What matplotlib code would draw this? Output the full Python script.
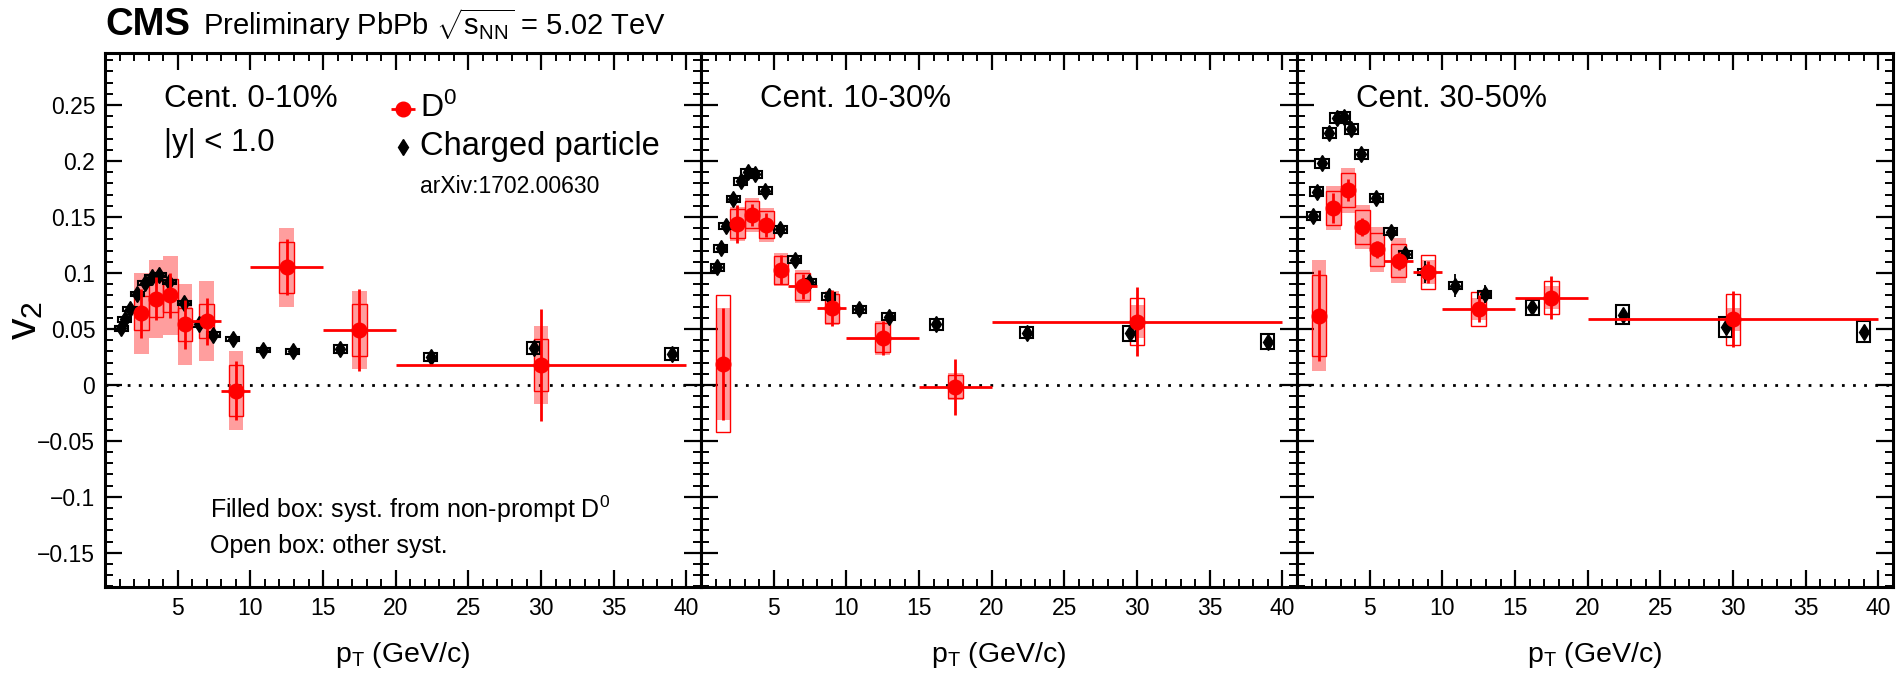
import numpy as np
import matplotlib
matplotlib.use("Agg")
import matplotlib.pyplot as plt
from matplotlib.patches import Rectangle
from matplotlib.ticker import FixedLocator, FixedFormatter, MultipleLocator

plt.rcParams['font.family'] = ['Liberation Sans', 'DejaVu Sans']
plt.rcParams['mathtext.fontset'] = 'custom'
plt.rcParams['mathtext.rm'] = 'Liberation Sans'
plt.rcParams['mathtext.it'] = 'Liberation Sans:italic'
plt.rcParams['mathtext.bf'] = 'Liberation Sans:bold'

# D0 pT bins (GeV/c)
d0_lo = [1, 2, 3, 4, 5, 6, 8, 10, 15, 20]
d0_hi = [2, 3, 4, 5, 6, 8, 10, 15, 20, 40]

# D0 v2, 0-10% (no measurement in the first bin)
d0_v2_0_10 = [np.nan, 0.064, 0.077, 0.080, 0.054, 0.057, -0.005, 0.105, 0.049, 0.018]
d0_stat_0_10 = [np.nan, 0.022, 0.019, 0.020, 0.022, 0.021, 0.026, 0.025, 0.037, 0.050]
d0_npsys_0_10 = [np.nan, 0.036, 0.035, 0.035, 0.036, 0.036, 0.035, 0.035, 0.035, 0.035]
d0_sys_0_10 = [np.nan, 0.015, 0.016, 0.015, 0.015, 0.015, 0.023, 0.023, 0.023, 0.023]

# D0 v2, 10-30%
d0_v2_10_30 = [0.019, 0.144, 0.152, 0.143, 0.103, 0.088, 0.0685, 0.042, -0.0015, 0.0565]
d0_stat_10_30 = [0.050, 0.017, 0.010, 0.011, 0.013, 0.011, 0.016, 0.015, 0.025, 0.031]
d0_npsys_10_30 = [0.050, 0.015, 0.015, 0.015, 0.015, 0.015, 0.015, 0.015, 0.012, 0.015]
d0_sys_10_30 = [0.061, 0.013, 0.012, 0.012, 0.0125, 0.012, 0.013, 0.013, 0.010, 0.021]

# D0 v2, 30-50%
d0_v2_30_50 = [0.062, 0.158, 0.174, 0.141, 0.121, 0.111, 0.101, 0.068, 0.078, 0.0586]
d0_stat_30_50 = [0.041, 0.013, 0.010, 0.008, 0.008, 0.008, 0.010, 0.012, 0.019, 0.025]
d0_npsys_30_50 = [0.050, 0.020, 0.020, 0.020, 0.020, 0.020, 0.011, 0.010, 0.010, 0.010]
d0_sys_30_50 = [0.0365, 0.015, 0.015, 0.015, 0.015, 0.015, 0.0155, 0.015, 0.015, 0.023]

# charged particle v2 (arXiv:1702.00630)
ch_pt = [1.12, 1.37, 1.72, 2.22, 2.72, 3.22, 3.73, 4.42, 5.44, 6.45,
         7.46, 8.8, 10.9, 12.9, 16.2, 22.4, 29.5, 39.0]
ch_v2_0_10 = [0.0505, 0.0585, 0.068, 0.081, 0.091, 0.096, 0.098, 0.092, 0.073, 0.054,
              0.045, 0.041, 0.031, 0.030, 0.032, 0.025, 0.033, 0.028]
ch_stat_0_10 = [0.001, 0.001, 0.001, 0.001, 0.001, 0.001, 0.001, 0.001, 0.002, 0.002,
                0.002, 0.002, 0.003, 0.003, 0.002, 0.002, 0.003, 0.004]
ch_sys_0_10 = [0.002, 0.002, 0.002, 0.002, 0.002, 0.002, 0.002, 0.002, 0.002, 0.002,
               0.002, 0.002, 0.002, 0.002, 0.0034, 0.0037, 0.0055, 0.0054]
ch_v2_10_30 = [0.105, 0.122, 0.142, 0.166, 0.182, 0.190, 0.188, 0.1735, 0.139, 0.112,
               0.092, 0.079, 0.0676, 0.061, 0.054, 0.0467, 0.046, 0.0387]
ch_stat_10_30 = [0.001, 0.001, 0.001, 0.001, 0.001, 0.001, 0.001, 0.001, 0.002, 0.002,
                 0.003, 0.006, 0.004, 0.004, 0.003, 0.003, 0.004, 0.004]
ch_sys_10_30 = [0.003, 0.003, 0.003, 0.003, 0.003, 0.003, 0.003, 0.003, 0.003, 0.003,
                0.003, 0.003, 0.003, 0.003, 0.005, 0.005, 0.007, 0.0068]
ch_v2_30_50 = [0.151, 0.1726, 0.198, 0.2247, 0.2387, 0.239, 0.2286, 0.206, 0.1667, 0.137,
               0.1167, 0.101, 0.0887, 0.081, 0.0693, 0.0625, 0.052, 0.0476]
ch_stat_30_50 = [0.002, 0.002, 0.002, 0.002, 0.002, 0.002, 0.002, 0.002, 0.003, 0.003,
                 0.004, 0.010, 0.010, 0.008, 0.004, 0.004, 0.005, 0.005]
ch_sys_30_50 = [0.0036, 0.004, 0.004, 0.0045, 0.0045, 0.0045, 0.0045, 0.004, 0.0035, 0.0035,
                0.003, 0.003, 0.003, 0.003, 0.0065, 0.0085, 0.009, 0.0094]

centralities = ['Cent. 0-10%', 'Cent. 10-30%', 'Cent. 30-50%']

ytick_vals = [-0.15, -0.1, -0.05, 0, 0.05, 0.1, 0.15, 0.2, 0.25]
ytick_text = ['\u22120.15', '\u22120.1', '\u22120.05', '0', '0.05', '0.1', '0.15', '0.2', '0.25']
xtick_vals = [5, 10, 15, 20, 25, 30, 35, 40]

RED = '#ff0000'
RED_FILL = (1.0, 0.0, 0.0, 0.38)


def draw_panel(ax, d0_v2, d0_stat, d0_npsys, d0_sys, ch_v2, ch_stat, ch_sys):
    ax.axhline(0, color='black', lw=2, ls=(0, (1, 3)), zorder=1)

    # D0 systematic boxes
    for lo, hi, v, s_np, s in zip(d0_lo, d0_hi, d0_v2, d0_npsys, d0_sys):
        if np.isnan(v):
            continue
        c = 0.5 * (lo + hi)
        ax.add_patch(Rectangle((c - 0.5, v - s_np), 1.0, 2 * s_np,
                               facecolor=RED_FILL, edgecolor='none', zorder=2))
        ax.add_patch(Rectangle((c - 0.5, v - s), 1.0, 2 * s,
                               facecolor='none', edgecolor=RED, lw=1.0, zorder=3))

    # charged particles
    for pt, v, s in zip(ch_pt, ch_v2, ch_sys):
        ax.add_patch(Rectangle((pt - 0.45, v - s), 0.9, 2 * s,
                               facecolor='none', edgecolor='black', lw=1.5, zorder=4))
    ax.errorbar(ch_pt, ch_v2, yerr=ch_stat, fmt='d', color='black', ms=8,
                elinewidth=1.3, capsize=0, zorder=5)

    # D0 points with stat errors
    lo = np.array(d0_lo, dtype=float)
    hi = np.array(d0_hi, dtype=float)
    c = 0.5 * (lo + hi)
    ax.errorbar(c, d0_v2, xerr=0.5 * (hi - lo), yerr=d0_stat, fmt='o', color=RED,
                ms=10.5, elinewidth=2.0, capsize=0, zorder=6)

    ax.set_xlim(0, 41)
    ax.set_ylim(-0.1805, 0.2965)
    ax.xaxis.set_major_locator(FixedLocator(xtick_vals))
    ax.xaxis.set_minor_locator(MultipleLocator(1))
    ax.yaxis.set_major_locator(FixedLocator(ytick_vals))
    ax.yaxis.set_major_formatter(FixedFormatter(ytick_text))
    ax.yaxis.set_minor_locator(MultipleLocator(0.01))
    ax.tick_params(which='both', direction='in', top=True, right=True, labelsize=16.5)
    ax.tick_params(which='major', length=12, width=1.6, pad=7)
    ax.tick_params(which='minor', length=6, width=1.4)
    for sp in ax.spines.values():
        sp.set_linewidth(2.2)
    ax.text(0.5, -0.1405, r'p$_{\mathrm{T}}$ (GeV/c)', transform=ax.transAxes,
            ha='center', va='baseline', fontsize=20.5)


fig = plt.figure(figsize=(18.97, 6.8), dpi=100)
W, H = 1897.0, 680.0
ax_w = 596 / W
ax_h = 534 / H
ax_b = (H - 587) / H
lefts = [105 / W, 701 / W, 1297 / W]
axes = [fig.add_axes([l, ax_b, ax_w, ax_h]) for l in lefts]

draw_panel(axes[0], d0_v2_0_10, d0_stat_0_10, d0_npsys_0_10, d0_sys_0_10,
           ch_v2_0_10, ch_stat_0_10, ch_sys_0_10)
draw_panel(axes[1], d0_v2_10_30, d0_stat_10_30, d0_npsys_10_30, d0_sys_10_30,
           ch_v2_10_30, ch_stat_10_30, ch_sys_10_30)
draw_panel(axes[2], d0_v2_30_50, d0_stat_30_50, d0_npsys_30_50, d0_sys_30_50,
           ch_v2_30_50, ch_stat_30_50, ch_sys_30_50)
for ax in axes[1:]:
    ax.tick_params(labelleft=False)

for ax, name in zip(axes, centralities):
    ax.text(4.05, 0.2485, name, fontsize=22.5, va='baseline', ha='left')

ax0 = axes[0]
ax0.text(4.05, 0.209, '|y| < 1.0', fontsize=22.5, va='baseline', ha='left')

# legend
ax0.errorbar([20.5], [0.2465], xerr=[0.8], fmt='o', color=RED, ms=10.5,
             elinewidth=2.0, capsize=0, zorder=6)
ax0.text(21.7, 0.2395, r'D$^{0}$', fontsize=23, va='baseline', ha='left')
ax0.plot([20.5], [0.2125], 'd', color='black', ms=8)
ax0.text(21.7, 0.205, 'Charged particle', fontsize=23.5, va='baseline', ha='left')
ax0.text(21.7, 0.171, 'arXiv:1702.00630', fontsize=16.5, va='baseline', ha='left')

ax0.text(7.25, -0.119, r'Filled box: syst. from non-prompt D$^{0}$', fontsize=18,
         va='baseline', ha='left')
ax0.text(7.25, -0.1497, 'Open box: other syst.', fontsize=18, va='baseline', ha='left')

# header and y title
fig.text(105 / W, 1 - 35 / H, 'CMS', fontsize=27.5, fontweight='bold', va='baseline', ha='left')
fig.text(203 / W, 1 - 35 / H, r'Preliminary PbPb $\sqrt{\mathrm{s}_{\mathrm{NN}}}$ = 5.02 TeV',
         fontsize=21, va='baseline', ha='left')
fig.text(25 / W, 1 - 320 / H, r'v$_{2}$', fontsize=31, rotation=90, va='center', ha='center')

fig.savefig('out.png', dpi=100)
